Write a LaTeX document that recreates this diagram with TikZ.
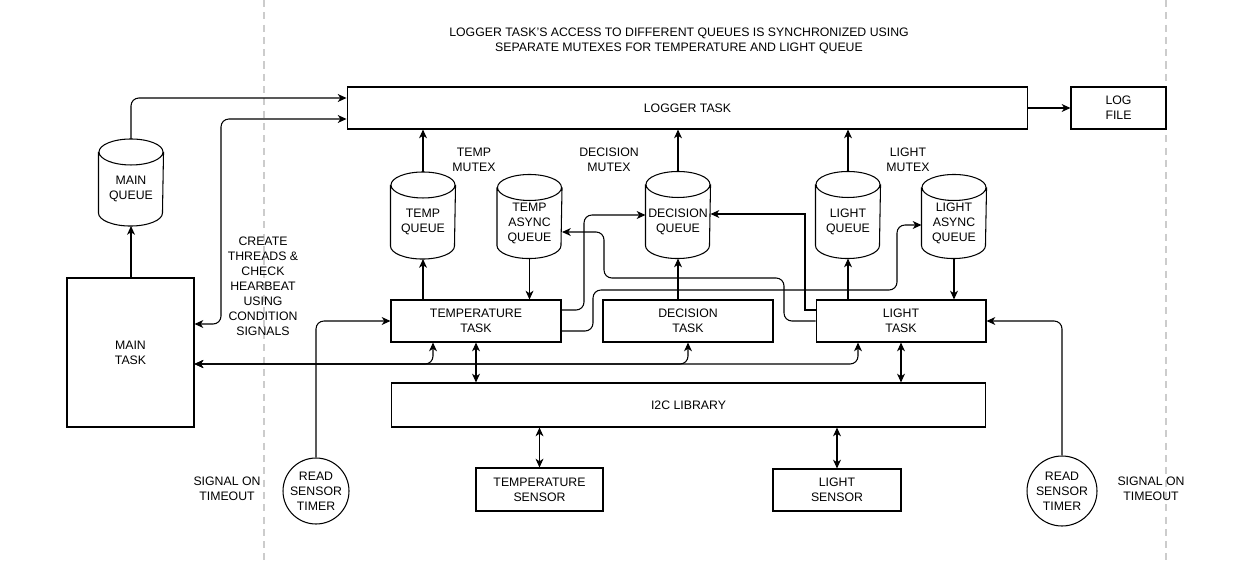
\documentclass[tikz,border=0pt]{standalone}
\usepackage{fontspec}
\setmainfont{Liberation Sans}
\usetikzlibrary{positioning,arrows.meta}
\tikzset{%
every node/.style={font=\fontsize{7}{8.5}\selectfont,align=center,inner sep=0pt},
taskbox/.style={draw,rectangle,minimum width=3.4cm,minimum height=0.84cm},
queue/.style={rectangle,minimum width=1.28cm,minimum height=0.94cm},
timer/.style={draw,circle,minimum size=#1},
timer/.default=1.4cm,
link/.style={-{Stealth[length=5pt,width=4.5pt,inset=1.5pt]}},
duplex/.style={{Stealth[length=5pt,width=4.5pt,inset=1.5pt]}-{Stealth[length=5pt,width=4.5pt,inset=1.5pt]}},
elbow/.style={rounded corners=4.5pt},
divider/.style={draw=gray!40,dash pattern=on 4pt off 3pt}
}

\begin{document}
\begin{tikzpicture}[x=0.02cm,y=-0.02cm,line width=0.6pt]

    \useasboundingbox (0,0) rectangle (1247,565);
    \draw[divider] (264,0) -- (264,565);
    \draw[divider] (1166,0) -- (1166,565);

    \node (title) at (679,41) {LOGGER TASK'S ACCESS TO DIFFERENT QUEUES IS SYNCHRONIZED USING\\SEPARATE MUTEXES FOR TEMPERATURE AND LIGHT QUEUE};

    \node[taskbox,minimum width=13.62cm] (logger)  at (687.5,108) {LOGGER TASK};
    \node[taskbox,minimum width=1.9cm]   (logfile) at (1118.5,108) {LOG\\FILE};

    \node[queue]  (mainq)    at (131,189) {MAIN\\QUEUE};
    \node[taskbox,minimum width=2.54cm,minimum height=2.98cm] (maintask) at (130.5,352.5) {MAIN\\TASK};
    \node (create) at (263,286) {CREATE\\THREADS \&\\CHECK\\HEARBEAT\\USING\\CONDITION\\SIGNALS};

    \node (tempmutex)  at (474,160) {TEMP\\MUTEX};
    \node (decmutex)   at (609,160) {DECISION\\MUTEX};
    \node (lightmutex) at (908,160) {LIGHT\\MUTEX};

    \node[queue] (tempq)   at (423,222)   {TEMP\\QUEUE};
    \node[queue,minimum height=0.88cm] (tempaq) at (529.5,223) {TEMP\\ASYNC\\QUEUE};
    \node[queue] (decq)    at (678,221.5) {DECISION\\QUEUE};
    \node[queue] (lightq)  at (848,221.5) {LIGHT\\QUEUE};
    \node[queue,minimum height=0.88cm] (lightaq) at (954,223) {LIGHT\\ASYNC\\QUEUE};

    \foreach \q in {mainq,tempq,tempaq,decq,lightq,lightaq}
    {
    \draw ([yshift=0.26cm]\q.north) ellipse [x radius=0.64cm,y radius=0.26cm]
          ([yshift=0.26cm]\q.north west) -- (\q.south west)
          arc [start angle=180,end angle=360,x radius=0.64cm,y radius=0.26cm]
          -- ([yshift=0.26cm]\q.north east);
    \coordinate (\q-top) at ([yshift=0.52cm]\q.north);
    \coordinate (\q-bot) at ([yshift=-0.26cm]\q.south);
    }

    \node[taskbox] (temptask)  at (476,321) {TEMPERATURE\\TASK};
    \node[taskbox] (dectask)   at (688,321) {DECISION\\TASK};
    \node[taskbox] (lighttask) at (901,321) {LIGHT\\TASK};

    \node[taskbox,minimum width=11.9cm,minimum height=0.88cm] (i2c) at (688.5,405) {I2C LIBRARY};
    \node[taskbox,minimum width=2.54cm,minimum height=0.86cm] (tsensor) at (539.5,489.5) {TEMPERATURE\\SENSOR};
    \node[taskbox,minimum width=2.56cm] (lsensor) at (837,490) {LIGHT\\SENSOR};

    \node[timer=1.32cm] (timerl) at (316,491) {READ\\SENSOR\\TIMER};
    \node[timer]        (timerr) at (1062,491) {READ\\SENSOR\\TIMER};
    \node (signall) at (227,489) {SIGNAL ON\\TIMEOUT};
    \node (signalr) at (1151,489) {SIGNAL ON\\TIMEOUT};

    \path[link] (logger) edge (logfile)
                (maintask.north -| mainq-bot) edge (mainq-bot)
                (tempq-top) edge (tempq-top |- logger.south)
                (decq-top) edge (decq-top |- logger.south)
                (lightq-top) edge (lightq-top |- logger.south)
                (temptask.north -| tempq-bot) edge (tempq-bot)
                (dectask.north -| decq-bot) edge (decq-bot)
                (lighttask.north -| lightq-bot) edge (lightq-bot)
                (tempaq-bot) edge (tempaq-bot |- temptask.north)
                (lightaq-bot) edge (lightaq-bot |- lighttask.north);

    \path[duplex] (temptask) edge (temptask.south |- i2c.north)
                  (lighttask) edge (lighttask.south |- i2c.north)
                  (tsensor) edge (tsensor.north |- i2c.south)
                  (lsensor) edge (lsensor.north |- i2c.south);

    \draw[link,elbow] (mainq-top) |- (logger.west |- 0,98);
    \draw[duplex,elbow] (maintask.east |- 0,324) -- (221,324) -- (221,119) -- (logger.west |- 0,119);
    \draw[duplex,elbow] (maintask.east |- 0,364) -| (temptask.south -| 433,0);
    \draw[duplex,elbow] (maintask.east |- 0,364) -| (dectask.south);
    \draw[duplex,elbow] (maintask.east |- 0,364) -| (lighttask.south -| 858,0);

    \draw[link,elbow] (temptask.east |- 0,310) -- (584,310) -- (584,215) -- (decq.west |- 0,215);
    \draw[link,elbow] (temptask.east |- 0,331) -- (593,331) -- (593,290) -- (897,290) -- (897,225) -- (lightaq.west |- 0,225);
    \draw[link] (lighttask.west |- 0,310) -- (805,310) -- (805,214) -- (decq.east |- 0,214);
    \draw[link,elbow] (lighttask.west |- 0,321) -- (784,321) -- (784,278) -- (604,278) -- (604,232) -- (tempaq.east |- 0,232);

    \draw[link,elbow] (timerl.north) |- (temptask.west);
    \draw[link,elbow] (timerr.north) |- (lighttask.east);

\end{tikzpicture}
\end{document}
